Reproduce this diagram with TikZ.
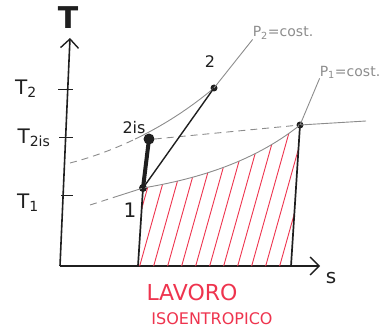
\documentclass[tikz,border=0pt]{standalone}
\usepackage{fontspec}
\setmainfont{DejaVu Sans}
\usepackage{tikz}
\usetikzlibrary{arrows.meta,positioning,calc}
\definecolor{tsInk}  {gray}{0.12}
\definecolor{tsIso}  {gray}{0.55}
\definecolor{tsWork} {RGB}{238,52,78}

\begin{document}
\begin{tikzpicture}[x=1pt, y=-1pt,
      axis/.style={draw=tsInk, line width=1.6pt, -{Straight Barb[length=9pt, width=18pt, line width=1.4pt]}},
      tick/.style={draw=tsInk, line width=0.9pt},
      isobar/.style={draw=tsIso, line width=0.9pt},
      isodash/.style={isobar, dashed, dash pattern=on 7pt off 5pt},
      state/.style={circle, fill=tsInk, inner sep=0pt, minimum size=8pt},
      stroke/.style={draw=tsInk, line width=1.7pt},
      hatch/.style={draw=tsWork, line width=0.9pt},
      lbl/.style={font=\fontsize{20}{20}\selectfont, text=tsInk, inner sep=0pt},
      isolbl/.style={font=\fontsize{14}{14}\selectfont, text=tsIso, inner sep=0pt},
      worklbl/.style={font=\fontsize{22}{22}\selectfont, text=tsWork, inner sep=0pt}]
    \useasboundingbox (0,0) rectangle (382,334);
    % assi
    \coordinate (orig) at (60,266);
    \coordinate (ytip) at (70,38);
    \coordinate (xtip) at (320,266);
    \draw[axis] (orig) -- (ytip);
    \draw[axis] (orig) -- (xtip);
    \node[lbl, font=\fontsize{30}{30}\selectfont\bfseries] (tAx) at (68,18) {T};
    \node[lbl] (sAx) at (331,278) {s};
    % tacche
    \node[lbl] (tTwo)  at (26,89)  {T\textsubscript{2}};
    \node[lbl] (tTwoS) at (34,138) {T\textsubscript{2is}};
    \node[lbl] (tOne)  at (28,203) {T\textsubscript{1}};
    \draw[tick] (58,89) -- (73,89);
    \draw[tick] (59,137) -- (73,137);
    \draw[tick] (61,195) -- (73,195);
    % stati
    \node[state] (s1)  at (143,188) {};
    \node[state, minimum size=11pt] (s2is) at (149,139) {};
    \node[state, minimum size=7pt] (s2) at (214,88) {};
    \node[state, minimum size=7pt] (s3) at (300,125) {};
    \coordinate (f1) at (138,266);
    \coordinate (f3) at (291,266);
    \coordinate (a2) at (70,163);
    % area lavoro
    \begin{scope}
      \clip (f1) -- (s1.center) .. controls (190,180) and (250,165) .. (s3.center) -- (f3) -- cycle;
      \foreach \x in {110,124,...,320}
        \draw[hatch] (\x,272) -- ++(42,-150);
    \end{scope}
    % isobare
    \node[isolbl] (pTwo) at (283,33) {P\textsubscript{2}=cost.};
    \node[isolbl] (pOne) at (350,72) {P\textsubscript{1}=cost.};
    \begin{scope}
      \clip (0,0) rectangle (135,334);
      \draw[isodash] (a2) .. controls (120,150) and (170,125) .. (s2.center);
    \end{scope}
    \begin{scope}
      \clip (135,0) rectangle (382,334);
      \draw[isobar] (a2) .. controls (120,150) and (170,125) .. (s2.center);
    \end{scope}
    \draw[isobar] (s2.center) -- (pTwo.south west);
    \draw[isodash] (90,205) -- (118,196);
    \draw[isobar] (118,196) -- (s1.center) .. controls (190,180) and (250,165) .. (s3.center)
      -- (pOne.south west);
    \draw[isodash] (s2is.east) -- (s3.center);
    \draw[isobar] (s3.center) -- (366,121);
    % trasformazioni
    \draw[stroke, line width=4pt] (s1.center) -- (s2is.center);
    \draw[stroke, line width=1.4pt] (s1.center) -- (s2.center);
    \draw[stroke] (s1.center) -- (f1);
    \draw[stroke] (s3.center) -- (f3);
    \node[lbl] (n1)   at (130,210) {1};
    \node[lbl, font=\fontsize{16}{16}\selectfont] (n2is) at (134,128) {2is};
    \node[lbl, font=\fontsize{16}{16}\selectfont] (n2)   at (210,62) {2};
    \node[worklbl] (lav) at (192,292) {LAVORO};
    \node[worklbl, font=\fontsize{16}{16}\selectfont] (iso) at (212,319) {ISOENTROPICO};
  \end{tikzpicture}
\end{document}
